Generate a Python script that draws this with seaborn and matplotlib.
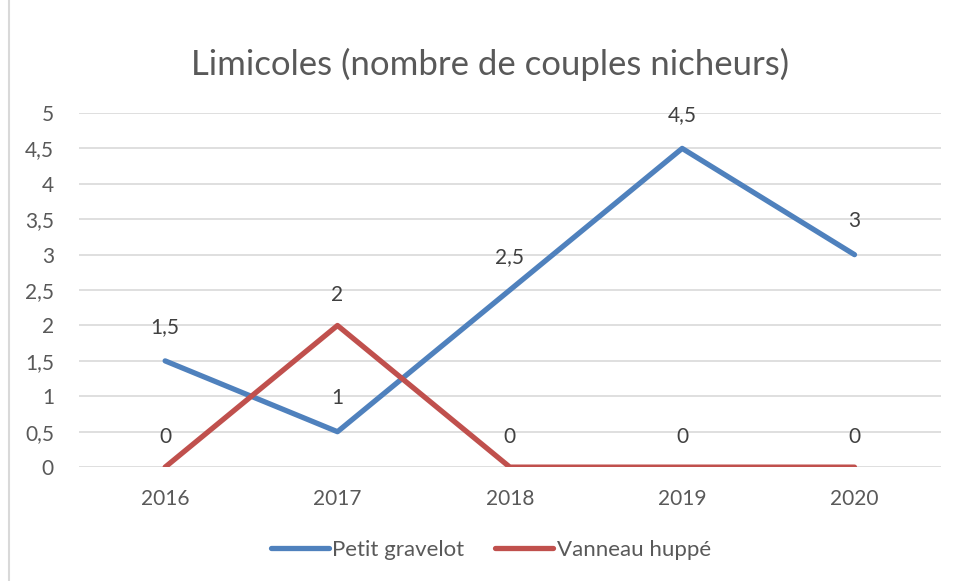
import pandas as pd
import matplotlib.pyplot as plt
import seaborn as sns
from matplotlib.patches import Rectangle

# Données
annees = ["2016", "2017", "2018", "2019", "2020"]
petit_gravelot = [1.5, 0.5, 2.5, 4.5, 3]
vanneau_huppe = [0, 2, 0, 0, 0]
etiquettes_gravelot = ["1,5", "1", "2,5", "4,5", "3"]
etiquettes_vanneau = ["0", "2", "0", "0", "0"]
graduations_y = [0, 0.5, 1, 1.5, 2, 2.5, 3, 3.5, 4, 4.5, 5]

df = pd.DataFrame({
    "Annee": annees * 2,
    "Valeur": petit_gravelot + vanneau_huppe,
    "Espece": ["Petit gravelot"] * 5 + ["Vanneau huppé"] * 5,
})

sns.set_style("white")
plt.rcParams['font.family'] = ['Lato', 'DejaVu Sans']

fig = plt.figure(figsize=(9.55, 5.81), dpi=100)
ax = fig.add_axes([0.0827, 0.196, 0.9023, 0.6095])

couleurs = {"Petit gravelot": "#4F81BD", "Vanneau huppé": "#C0504D"}
sns.lineplot(data=df, x="Annee", y="Valeur", hue="Espece", palette=couleurs,
             linewidth=3.8, ax=ax, sort=False, legend=True)

# Étiquettes de données
texte = "#404040"
for i, (v, t) in enumerate(zip(petit_gravelot, etiquettes_gravelot)):
    ax.annotate(t, (i, v), xytext=(0, 24), textcoords="offset points",
                ha="center", va="center", fontsize=15, color=texte)
for i, (v, t) in enumerate(zip(vanneau_huppe, etiquettes_vanneau)):
    ax.annotate(t, (i, v), xytext=(0, 22), textcoords="offset points",
                ha="center", va="center", fontsize=15, color=texte)

ax.set_xlim(-0.5, 4.5)
ax.set_ylim(0, 5)
ax.set_yticks(graduations_y)
ax.set_yticklabels([f"{g:g}".replace(".", ",") for g in graduations_y])
ax.yaxis.grid(True, color="#D9D9D9", linewidth=1.2)
ax.set_axisbelow(True)
for s in ax.spines.values():
    s.set_visible(False)
ax.tick_params(axis="both", length=0, labelsize=15, colors="#595959")
ax.tick_params(axis="x", pad=16)
ax.tick_params(axis="y", pad=18)
ax.set_xlabel("")
ax.set_ylabel("")

fig.suptitle("Limicoles (nombre de couples nicheurs)", x=0.513, y=0.918,
             fontsize=25, color="#595959")

handles, labels = ax.get_legend_handles_labels()
ax.legend(handles, labels, loc="center", ncol=2, frameon=False, fontsize=16,
          handlelength=2.6, handletextpad=0.15, columnspacing=1.4,
          labelcolor="#595959")
ax.get_legend().set_bbox_to_anchor((0.514, 0.054), transform=fig.transFigure)

# Bordure du graphique
fig.patches.append(Rectangle((0.009, -0.01), 1.2, 1.2, transform=fig.transFigure,
                             fill=False, edgecolor="#D9D9D9", linewidth=1.5))

fig.savefig("out.png", dpi=100)
